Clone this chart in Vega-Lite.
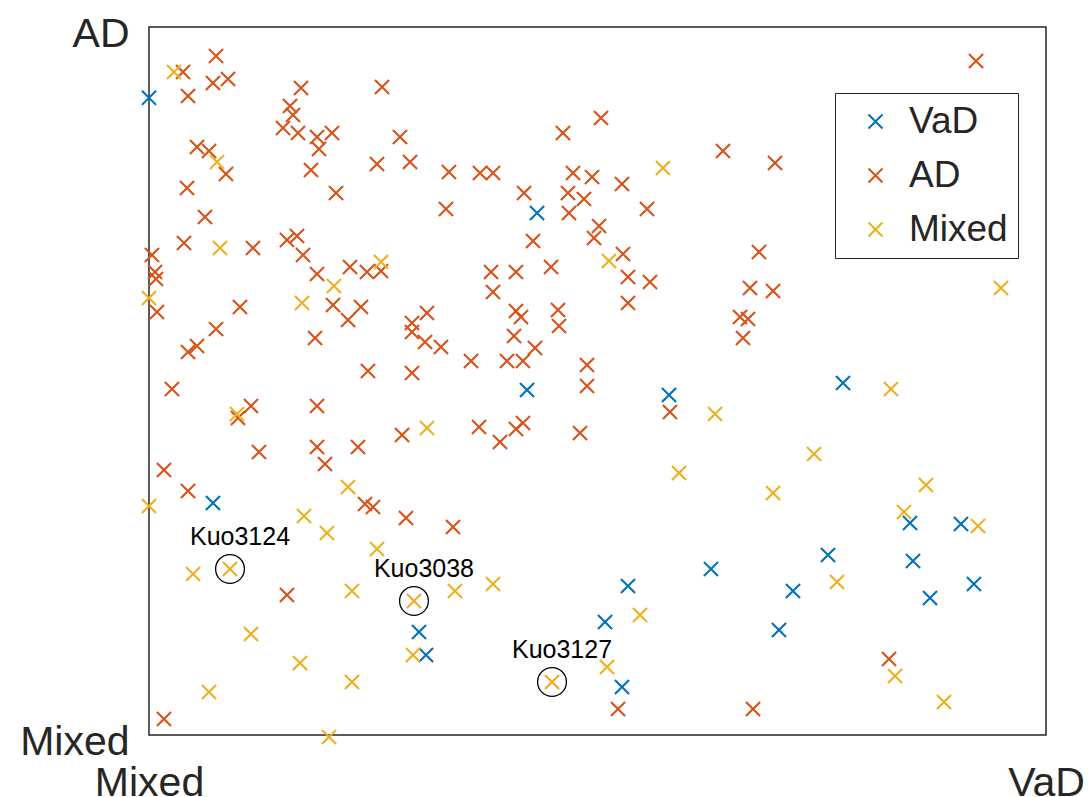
{
  "$schema": "https://vega.github.io/schema/vega-lite/v6.json",
  "width": 897,
  "height": 708,
  "autosize": {"type": "none"},
  "padding": {"left": 149, "top": 27, "right": 42, "bottom": 62},
  "background": "white",
  "data": {
    "values": [
      {"g": "VaD", "x": 0.0, "y": 0.900},
      {"g": "VaD", "x": 0.4326, "y": 0.7373},
      {"g": "VaD", "x": 0.4214, "y": 0.4873},
      {"g": "VaD", "x": 0.5797, "y": 0.4802},
      {"g": "VaD", "x": 0.7737, "y": 0.4972},
      {"g": "VaD", "x": 0.0713, "y": 0.3277},
      {"g": "VaD", "x": 0.3010, "y": 0.1455},
      {"g": "VaD", "x": 0.3088, "y": 0.1130},
      {"g": "VaD", "x": 0.5340, "y": 0.2105},
      {"g": "VaD", "x": 0.6265, "y": 0.2345},
      {"g": "VaD", "x": 0.5084, "y": 0.1596},
      {"g": "VaD", "x": 0.5273, "y": 0.0678},
      {"g": "VaD", "x": 0.8484, "y": 0.2994},
      {"g": "VaD", "x": 0.9052, "y": 0.2980},
      {"g": "VaD", "x": 0.7570, "y": 0.2542},
      {"g": "VaD", "x": 0.8517, "y": 0.2458},
      {"g": "VaD", "x": 0.7179, "y": 0.2034},
      {"g": "VaD", "x": 0.9197, "y": 0.2133},
      {"g": "VaD", "x": 0.8707, "y": 0.1935},
      {"g": "VaD", "x": 0.7023, "y": 0.1483},
      {"g": "AD", "x": 0.0379, "y": 0.9364},
      {"g": "AD", "x": 0.0747, "y": 0.9590},
      {"g": "AD", "x": 0.0713, "y": 0.9209},
      {"g": "AD", "x": 0.0881, "y": 0.9266},
      {"g": "AD", "x": 0.0435, "y": 0.9025},
      {"g": "AD", "x": 0.1695, "y": 0.9138},
      {"g": "AD", "x": 0.2598, "y": 0.9153},
      {"g": "AD", "x": 0.1572, "y": 0.8884},
      {"g": "AD", "x": 0.1605, "y": 0.8757},
      {"g": "AD", "x": 0.1494, "y": 0.8573},
      {"g": "AD", "x": 0.1661, "y": 0.8503},
      {"g": "AD", "x": 0.1873, "y": 0.8446},
      {"g": "AD", "x": 0.2040, "y": 0.8503},
      {"g": "AD", "x": 0.1895, "y": 0.8277},
      {"g": "AD", "x": 0.1806, "y": 0.7980},
      {"g": "AD", "x": 0.2798, "y": 0.8446},
      {"g": "AD", "x": 0.0535, "y": 0.8305},
      {"g": "AD", "x": 0.0669, "y": 0.8249},
      {"g": "AD", "x": 0.0858, "y": 0.7924},
      {"g": "AD", "x": 0.0424, "y": 0.7726},
      {"g": "AD", "x": 0.0624, "y": 0.7316},
      {"g": "AD", "x": 0.2085, "y": 0.7655},
      {"g": "AD", "x": 0.2542, "y": 0.8065},
      {"g": "AD", "x": 0.2910, "y": 0.8093},
      {"g": "AD", "x": 0.3344, "y": 0.7952},
      {"g": "AD", "x": 0.3311, "y": 0.7429},
      {"g": "AD", "x": 0.0390, "y": 0.6949},
      {"g": "AD", "x": 0.1159, "y": 0.6879},
      {"g": "AD", "x": 0.1538, "y": 0.6992},
      {"g": "AD", "x": 0.1650, "y": 0.7048},
      {"g": "AD", "x": 0.1717, "y": 0.6780},
      {"g": "AD", "x": 0.0033, "y": 0.6780},
      {"g": "AD", "x": 0.5039, "y": 0.8715},
      {"g": "AD", "x": 0.4615, "y": 0.8503},
      {"g": "AD", "x": 0.6399, "y": 0.8249},
      {"g": "AD", "x": 0.6979, "y": 0.8079},
      {"g": "AD", "x": 0.3690, "y": 0.7938},
      {"g": "AD", "x": 0.3835, "y": 0.7938},
      {"g": "AD", "x": 0.4727, "y": 0.7938},
      {"g": "AD", "x": 0.4939, "y": 0.7881},
      {"g": "AD", "x": 0.5273, "y": 0.7782},
      {"g": "AD", "x": 0.4181, "y": 0.7655},
      {"g": "AD", "x": 0.4671, "y": 0.7655},
      {"g": "AD", "x": 0.4849, "y": 0.7571},
      {"g": "AD", "x": 0.4682, "y": 0.7373},
      {"g": "AD", "x": 0.5552, "y": 0.7429},
      {"g": "AD", "x": 0.5017, "y": 0.7189},
      {"g": "AD", "x": 0.4961, "y": 0.7020},
      {"g": "AD", "x": 0.4281, "y": 0.6977},
      {"g": "AD", "x": 0.5284, "y": 0.6794},
      {"g": "AD", "x": 0.6800, "y": 0.6822},
      {"g": "AD", "x": 0.9220, "y": 0.9520},
      {"g": "AD", "x": 0.0067, "y": 0.6540},
      {"g": "AD", "x": 0.0078, "y": 0.6441},
      {"g": "AD", "x": 0.0089, "y": 0.5975},
      {"g": "AD", "x": 0.1014, "y": 0.6045},
      {"g": "AD", "x": 0.1873, "y": 0.6511},
      {"g": "AD", "x": 0.2241, "y": 0.6610},
      {"g": "AD", "x": 0.2430, "y": 0.6540},
      {"g": "AD", "x": 0.2586, "y": 0.6554},
      {"g": "AD", "x": 0.2051, "y": 0.6073},
      {"g": "AD", "x": 0.2219, "y": 0.5862},
      {"g": "AD", "x": 0.2363, "y": 0.6045},
      {"g": "AD", "x": 0.0747, "y": 0.5734},
      {"g": "AD", "x": 0.0535, "y": 0.5494},
      {"g": "AD", "x": 0.0435, "y": 0.5410},
      {"g": "AD", "x": 0.1851, "y": 0.5607},
      {"g": "AD", "x": 0.2932, "y": 0.5819},
      {"g": "AD", "x": 0.2932, "y": 0.5692},
      {"g": "AD", "x": 0.3099, "y": 0.5960},
      {"g": "AD", "x": 0.3077, "y": 0.5551},
      {"g": "AD", "x": 0.3255, "y": 0.5480},
      {"g": "AD", "x": 0.2441, "y": 0.5141},
      {"g": "AD", "x": 0.2932, "y": 0.5113},
      {"g": "AD", "x": 0.0256, "y": 0.4887},
      {"g": "AD", "x": 0.1137, "y": 0.4647},
      {"g": "AD", "x": 0.0992, "y": 0.4477},
      {"g": "AD", "x": 0.1873, "y": 0.4647},
      {"g": "AD", "x": 0.2821, "y": 0.4237},
      {"g": "AD", "x": 0.1226, "y": 0.3997},
      {"g": "AD", "x": 0.1873, "y": 0.4068},
      {"g": "AD", "x": 0.1962, "y": 0.3828},
      {"g": "AD", "x": 0.2330, "y": 0.4068},
      {"g": "AD", "x": 0.0167, "y": 0.3743},
      {"g": "AD", "x": 0.0435, "y": 0.3446},
      {"g": "AD", "x": 0.2408, "y": 0.3263},
      {"g": "AD", "x": 0.2497, "y": 0.3220},
      {"g": "AD", "x": 0.2865, "y": 0.3065},
      {"g": "AD", "x": 0.3389, "y": 0.2938},
      {"g": "AD", "x": 0.1538, "y": 0.1977},
      {"g": "AD", "x": 0.0167, "y": 0.0226},
      {"g": "AD", "x": 0.3813, "y": 0.6540},
      {"g": "AD", "x": 0.4091, "y": 0.6540},
      {"g": "AD", "x": 0.4482, "y": 0.6610},
      {"g": "AD", "x": 0.3835, "y": 0.6257},
      {"g": "AD", "x": 0.5340, "y": 0.6469},
      {"g": "AD", "x": 0.5585, "y": 0.6398},
      {"g": "AD", "x": 0.5340, "y": 0.6102},
      {"g": "AD", "x": 0.6700, "y": 0.6314},
      {"g": "AD", "x": 0.6957, "y": 0.6271},
      {"g": "AD", "x": 0.6589, "y": 0.5904},
      {"g": "AD", "x": 0.6678, "y": 0.5876},
      {"g": "AD", "x": 0.6622, "y": 0.5607},
      {"g": "AD", "x": 0.4091, "y": 0.5989},
      {"g": "AD", "x": 0.4147, "y": 0.5904},
      {"g": "AD", "x": 0.4560, "y": 0.6003},
      {"g": "AD", "x": 0.4571, "y": 0.5777},
      {"g": "AD", "x": 0.4069, "y": 0.5636},
      {"g": "AD", "x": 0.3590, "y": 0.5282},
      {"g": "AD", "x": 0.3991, "y": 0.5282},
      {"g": "AD", "x": 0.4169, "y": 0.5282},
      {"g": "AD", "x": 0.4303, "y": 0.5466},
      {"g": "AD", "x": 0.4883, "y": 0.5226},
      {"g": "AD", "x": 0.4883, "y": 0.4929},
      {"g": "AD", "x": 0.5808, "y": 0.4562},
      {"g": "AD", "x": 0.3679, "y": 0.4350},
      {"g": "AD", "x": 0.3913, "y": 0.4138},
      {"g": "AD", "x": 0.4091, "y": 0.4322},
      {"g": "AD", "x": 0.4169, "y": 0.4407},
      {"g": "AD", "x": 0.4805, "y": 0.4266},
      {"g": "AD", "x": 0.5229, "y": 0.0367},
      {"g": "AD", "x": 0.6734, "y": 0.0367},
      {"g": "AD", "x": 0.8250, "y": 0.1073},
      {"g": "Mixed", "x": 0.0279, "y": 0.9364},
      {"g": "Mixed", "x": 0.0758, "y": 0.8093},
      {"g": "Mixed", "x": 0.0792, "y": 0.6879},
      {"g": "Mixed", "x": 0.2586, "y": 0.6681},
      {"g": "Mixed", "x": 0.0, "y": 0.6172},
      {"g": "Mixed", "x": 0.1706, "y": 0.6102},
      {"g": "Mixed", "x": 0.2062, "y": 0.6342},
      {"g": "Mixed", "x": 0.5730, "y": 0.8008},
      {"g": "Mixed", "x": 0.5128, "y": 0.6695},
      {"g": "Mixed", "x": 0.9498, "y": 0.6314},
      {"g": "Mixed", "x": 0.0981, "y": 0.4534},
      {"g": "Mixed", "x": 0.3099, "y": 0.4336},
      {"g": "Mixed", "x": 0.6310, "y": 0.4534},
      {"g": "Mixed", "x": 0.5909, "y": 0.3701},
      {"g": "Mixed", "x": 0.8272, "y": 0.4887},
      {"g": "Mixed", "x": 0.7414, "y": 0.3969},
      {"g": "Mixed", "x": 0.6957, "y": 0.3418},
      {"g": "Mixed", "x": 0.8662, "y": 0.3531},
      {"g": "Mixed", "x": 0.0, "y": 0.3234},
      {"g": "Mixed", "x": 0.2219, "y": 0.3503},
      {"g": "Mixed", "x": 0.1728, "y": 0.3093},
      {"g": "Mixed", "x": 0.1984, "y": 0.2853},
      {"g": "Mixed", "x": 0.2542, "y": 0.2627},
      {"g": "Mixed", "x": 0.0491, "y": 0.2274},
      {"g": "Mixed", "x": 0.0903, "y": 0.2345, "label": "Kuo3124"},
      {"g": "Mixed", "x": 0.2263, "y": 0.2034},
      {"g": "Mixed", "x": 0.2954, "y": 0.1893, "label": "Kuo3038"},
      {"g": "Mixed", "x": 0.3411, "y": 0.2034},
      {"g": "Mixed", "x": 0.3835, "y": 0.2133},
      {"g": "Mixed", "x": 0.2943, "y": 0.1130},
      {"g": "Mixed", "x": 0.1137, "y": 0.1427},
      {"g": "Mixed", "x": 0.1683, "y": 0.1017},
      {"g": "Mixed", "x": 0.2263, "y": 0.0749},
      {"g": "Mixed", "x": 0.0669, "y": 0.0607},
      {"g": "Mixed", "x": 0.2007, "y": -0.0028},
      {"g": "Mixed", "x": 0.4493, "y": 0.0749, "label": "Kuo3127"},
      {"g": "Mixed", "x": 0.5106, "y": 0.0960},
      {"g": "Mixed", "x": 0.5474, "y": 0.1695},
      {"g": "Mixed", "x": 0.8417, "y": 0.3150},
      {"g": "Mixed", "x": 0.9242, "y": 0.2952},
      {"g": "Mixed", "x": 0.7670, "y": 0.2161},
      {"g": "Mixed", "x": 0.8317, "y": 0.0833},
      {"g": "Mixed", "x": 0.8863, "y": 0.0466}
    ]
  },
  "encoding": {
    "x": {
      "field": "x",
      "type": "quantitative",
      "scale": {"domain": [0, 1], "nice": false, "zero": false},
      "axis": {
        "title": null,
        "values": [0, 1],
        "labelExpr": "datum.value == 0 ? 'Mixed' : 'VaD'",
        "labelFlush": false,
        "labelOverlap": false,
        "labelPadding": 28,
        "tickSize": 0,
        "ticks": false,
        "domain": false,
        "grid": false,
        "labelFont": "Liberation Sans",
        "labelFontSize": 41,
        "labelColor": "#262626"
      }
    },
    "y": {
      "field": "y",
      "type": "quantitative",
      "scale": {"domain": [0, 1], "nice": false, "zero": false},
      "axis": {
        "title": null,
        "values": [0, 1],
        "labelExpr": "datum.value == 0 ? 'Mixed' : 'AD'",
        "labelFlush": false,
        "labelOverlap": false,
        "labelPadding": 20,
        "labelOffset": 7,
        "labelBaseline": "middle",
        "tickSize": 0,
        "ticks": false,
        "domain": false,
        "grid": false,
        "labelFont": "Liberation Sans",
        "labelFontSize": 41,
        "labelColor": "#262626"
      }
    }
  },
  "layer": [
    {
      "mark": {
        "type": "point",
        "shape": "M-1,-1L1,1M-1,1L1,-1",
        "filled": false,
        "size": 200,
        "strokeWidth": 2.1,
        "opacity": 1
      },
      "encoding": {
        "color": {
          "field": "g",
          "type": "nominal",
          "scale": {
            "domain": ["VaD", "AD", "Mixed"],
            "range": ["#0072BD", "#D95319", "#EDB120"]
          },
          "legend": {
            "title": null,
            "orient": "none",
            "legendX": 686,
            "legendY": 66,
            "padding": 10,
            "symbolType": "M-0.7,-0.7L0.7,0.7M-0.7,0.7L0.7,-0.7",
            "symbolSize": 400,
            "symbolOffset": 12,
            "symbolStrokeWidth": 2,
            "labelOffset": 15,
            "rowPadding": 16,
            "labelFont": "Liberation Sans",
            "labelFontSize": 37,
            "labelColor": "#262626",
            "strokeColor": "#262626",
            "fillColor": "white"
          }
        }
      }
    },
    {
      "transform": [{"filter": "isValid(datum.label)"}],
      "mark": {
        "type": "point",
        "shape": "circle",
        "filled": false,
        "size": 830,
        "stroke": "#000000",
        "strokeWidth": 1.3,
        "opacity": 1
      }
    },
    {
      "transform": [{"filter": "isValid(datum.label)"}],
      "mark": {
        "type": "text",
        "dx": 10,
        "dy": -24,
        "align": "center",
        "baseline": "alphabetic",
        "font": "Liberation Sans",
        "fontSize": 25,
        "color": "#000000"
      },
      "encoding": {"text": {"field": "label"}}
    }
  ],
  "config": {
    "view": {"stroke": "#262626", "strokeWidth": 1.5}
  }
}
